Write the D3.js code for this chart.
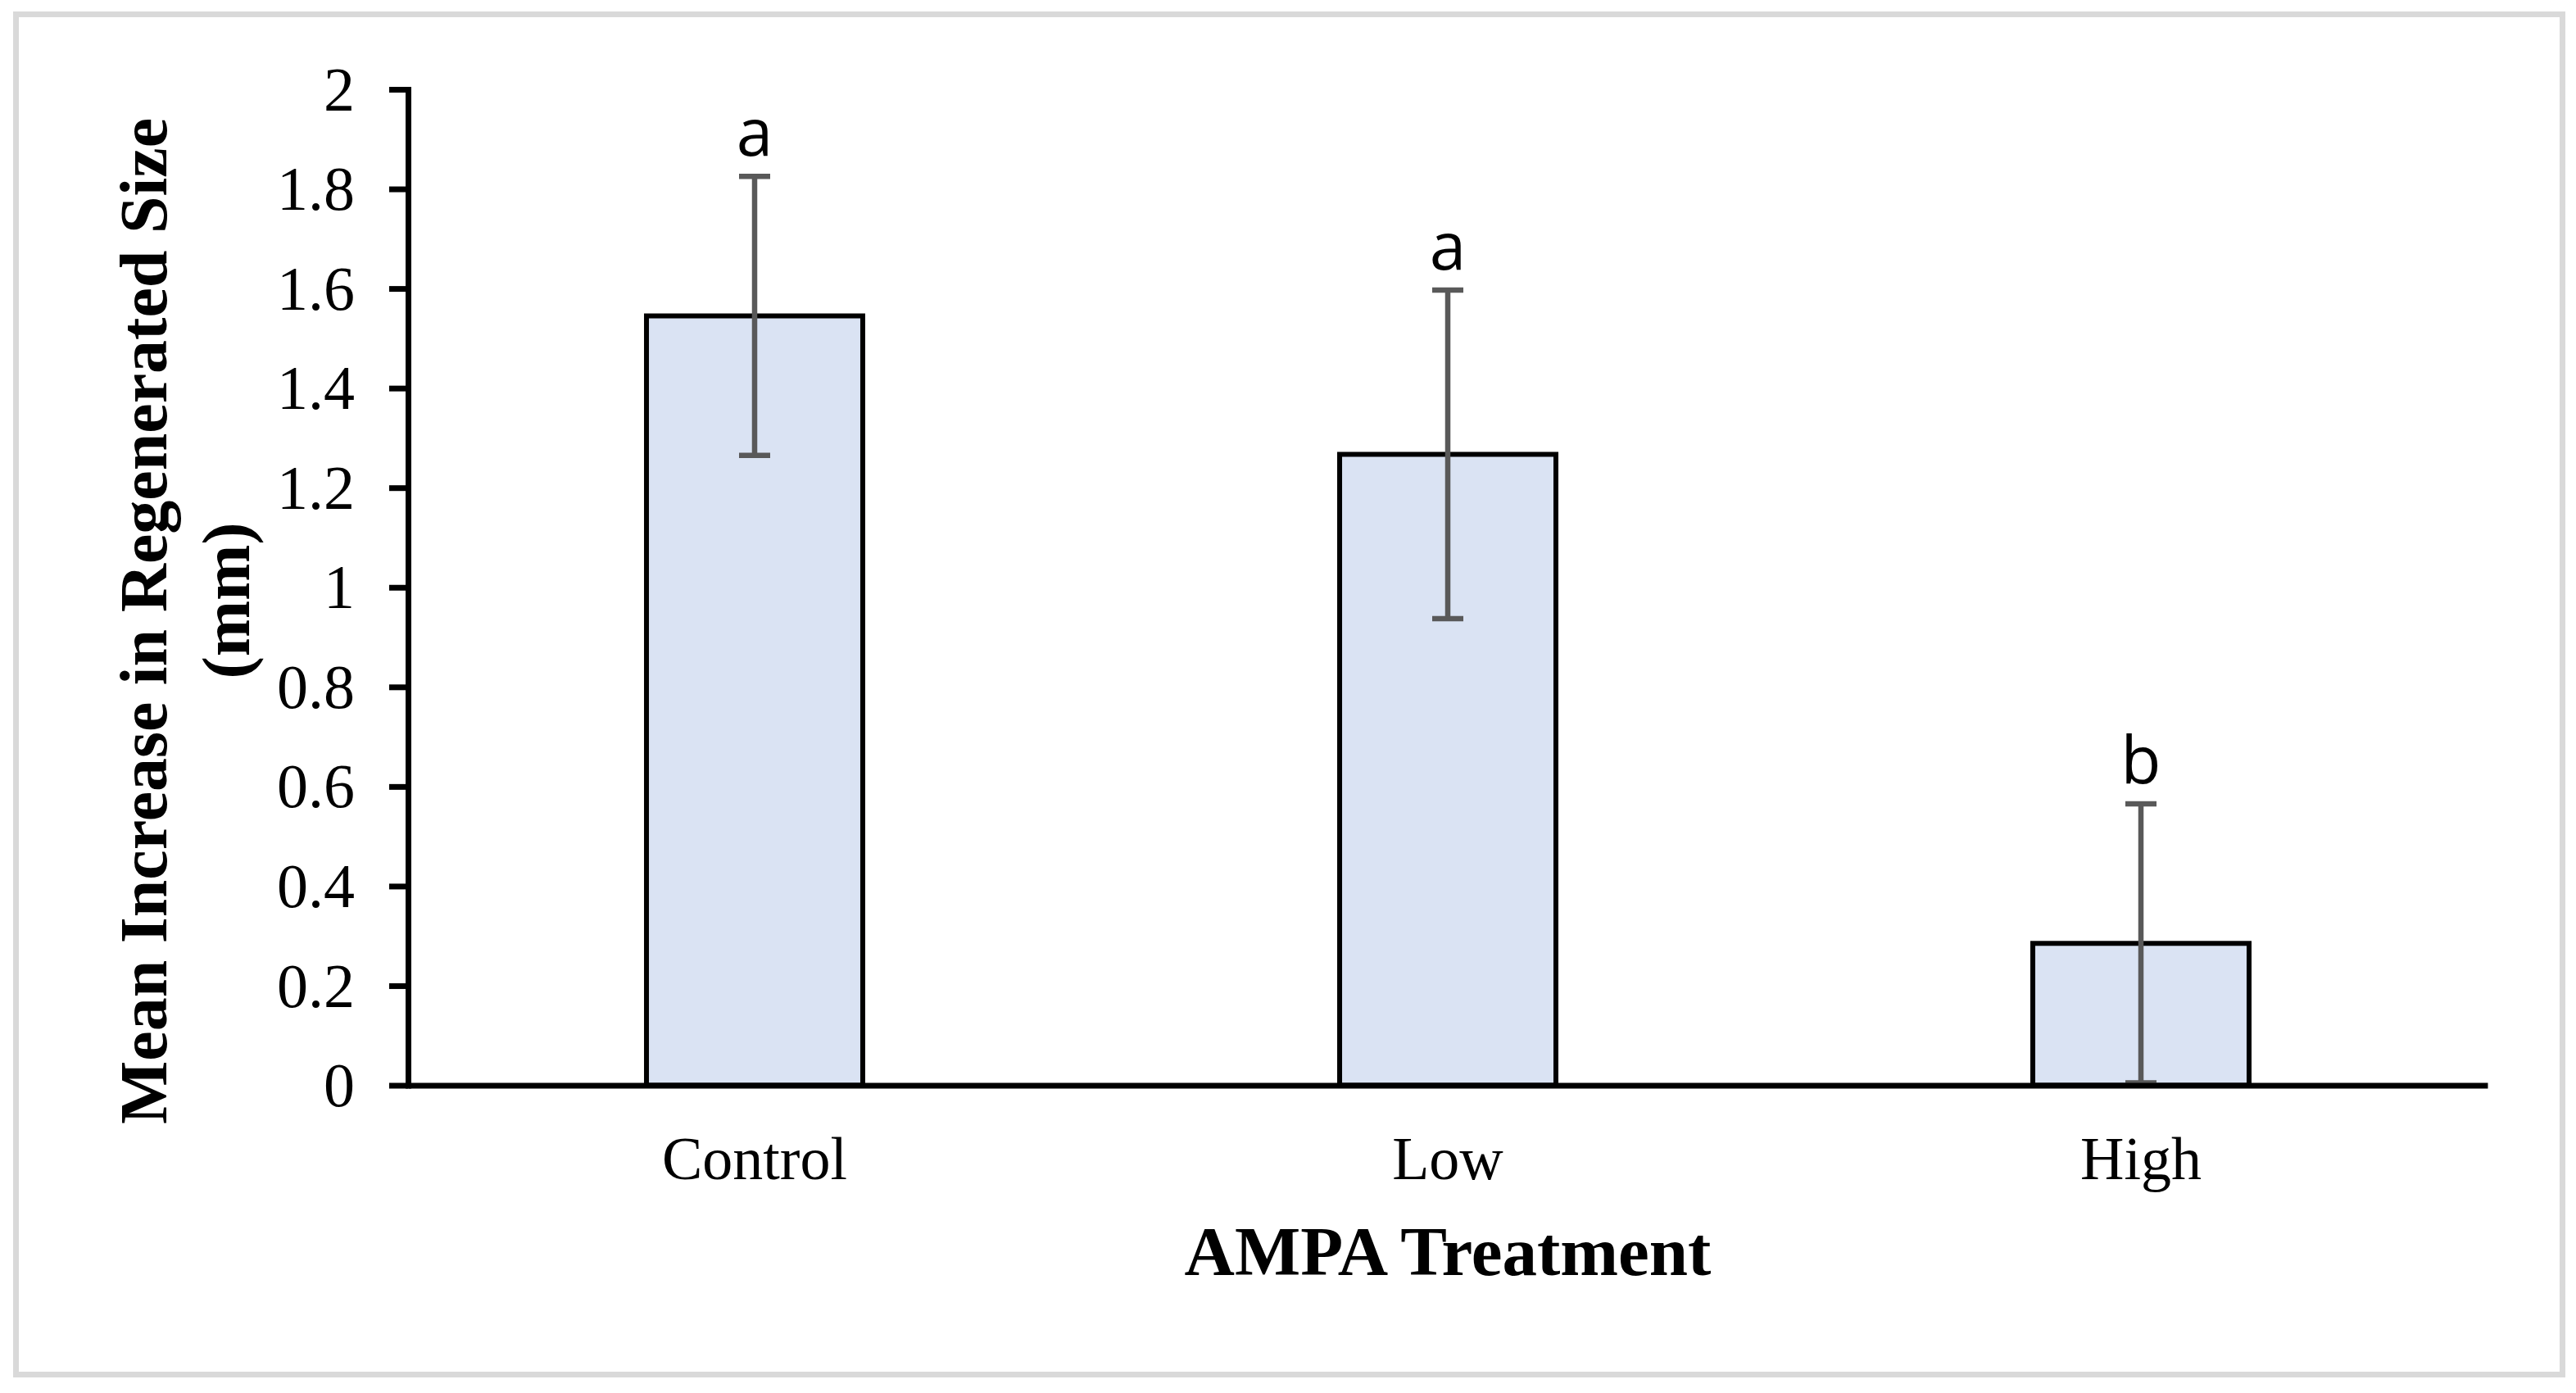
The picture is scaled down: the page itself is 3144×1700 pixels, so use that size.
<!DOCTYPE html>
<html>
<head>
<meta charset="utf-8">
<script src="https://cdn.jsdelivr.net/npm/d3@7"></script>
<style>
  body { margin: 0; background: #fff; }
  svg { display: block; }
</style>
</head>
<body>
<div id="chart"></div>
<script>
// data
const categories = ["Control", "Low", "High"];
const means = [1.545, 1.267, 0.285];
const errors = [0.28, 0.33, 0.28];
const letters = ["a", "a", "b"];
const yTicks = [0, 0.2, 0.4, 0.6, 0.8, 1, 1.2, 1.4, 1.6, 1.8, 2];

const width = 3144, height = 1700;
const plot = { left: 498, right: 3036, top: 109, bottom: 1324.5 };

const svg = d3.select("#chart").append("svg")
    .attr("width", width)
    .attr("height", height);

// outer frame
svg.append("rect")
    .attr("x", 19.5).attr("y", 17.5)
    .attr("width", 3108).attr("height", 1660)
    .attr("fill", "#fff")
    .attr("stroke", "#d9d9d9")
    .attr("stroke-width", 7);

const x = d3.scaleBand()
    .domain(categories)
    .range([plot.left, plot.right])
    .paddingInner(0.688)
    .paddingOuter(0.344);

const y = d3.scaleLinear()
    .domain([0, 2])
    .range([plot.bottom, plot.top]);

// bars
svg.append("g").selectAll("rect")
    .data(categories)
    .join("rect")
    .attr("x", d => x(d))
    .attr("y", (d, i) => y(means[i]))
    .attr("width", x.bandwidth())
    .attr("height", (d, i) => y(0) - y(means[i]))
    .attr("fill", "#dae3f3")
    .attr("stroke", "#000")
    .attr("stroke-width", 6);

// error bars
const capHalf = 19;
const err = svg.append("g")
    .attr("stroke", "#595959")
    .attr("stroke-width", 6.5)
    .attr("fill", "none");

err.selectAll("path")
    .data(categories)
    .join("path")
    .attr("d", (d, i) => {
        const cx = x(d) + x.bandwidth() / 2;
        const hi = y(means[i] + errors[i]);
        const lo = y(Math.max(0, means[i] - errors[i]));
        return `M${cx},${hi}V${lo}M${cx - capHalf},${hi}H${cx + capHalf}M${cx - capHalf},${lo}H${cx + capHalf}`;
    });

// significance letters
svg.append("g").selectAll("text")
    .data(categories)
    .join("text")
    .attr("x", d => x(d) + x.bandwidth() / 2)
    .attr("y", (d, i) => y(means[i] + errors[i]) - 25)
    .attr("text-anchor", "middle")
    .style("font-family", "'Open Sans', sans-serif")
    .style("font-size", "80px")
    .text((d, i) => letters[i]);

// y axis
const yAxis = svg.append("g")
    .attr("transform", `translate(${plot.left},0)`)
    .call(d3.axisLeft(y)
        .tickValues(yTicks)
        .tickSize(23)
        .tickSizeOuter(0)
        .tickPadding(42)
        .tickFormat(d => String(d)));

yAxis.selectAll("path, line")
    .attr("stroke", "#000")
    .attr("stroke-width", 7);
yAxis.select(".domain").attr("stroke-linecap", "square");
yAxis.selectAll("text")
    .attr("dy", "0.33em")
    .style("font-family", "'Liberation Serif', 'Times New Roman', serif")
    .style("font-size", "76px")
    .attr("fill", "#000");

// x axis
const xAxis = svg.append("g")
    .attr("transform", `translate(0,${plot.bottom})`)
    .call(d3.axisBottom(x).tickSize(0).tickSizeOuter(0));

xAxis.select(".domain")
    .attr("stroke", "#000")
    .attr("stroke-width", 7);
xAxis.selectAll("text")
    .attr("dy", null)
    .attr("y", 114)
    .style("font-family", "'Liberation Serif', 'Times New Roman', serif")
    .style("font-size", "74px")
    .attr("fill", "#000");

// axis titles
const serifBold = "'Liberation Serif', 'Times New Roman', serif";

svg.append("text")
    .attr("x", (plot.left + plot.right) / 2)
    .attr("y", 1556)
    .attr("text-anchor", "middle")
    .style("font-family", serifBold)
    .style("font-weight", "bold")
    .style("font-size", "85px")
    .text("AMPA Treatment");

svg.append("text")
    .attr("transform", "translate(203,758) rotate(-90)")
    .attr("text-anchor", "middle")
    .style("font-family", serifBold)
    .style("font-weight", "bold")
    .style("font-size", "82px")
    .text("Mean Increase in Regenerated Size");

svg.append("text")
    .attr("transform", "translate(304,733) rotate(-90)")
    .attr("text-anchor", "middle")
    .style("font-family", serifBold)
    .style("font-weight", "bold")
    .style("font-size", "82px")
    .text("(mm)");
</script>
</body>
</html>
